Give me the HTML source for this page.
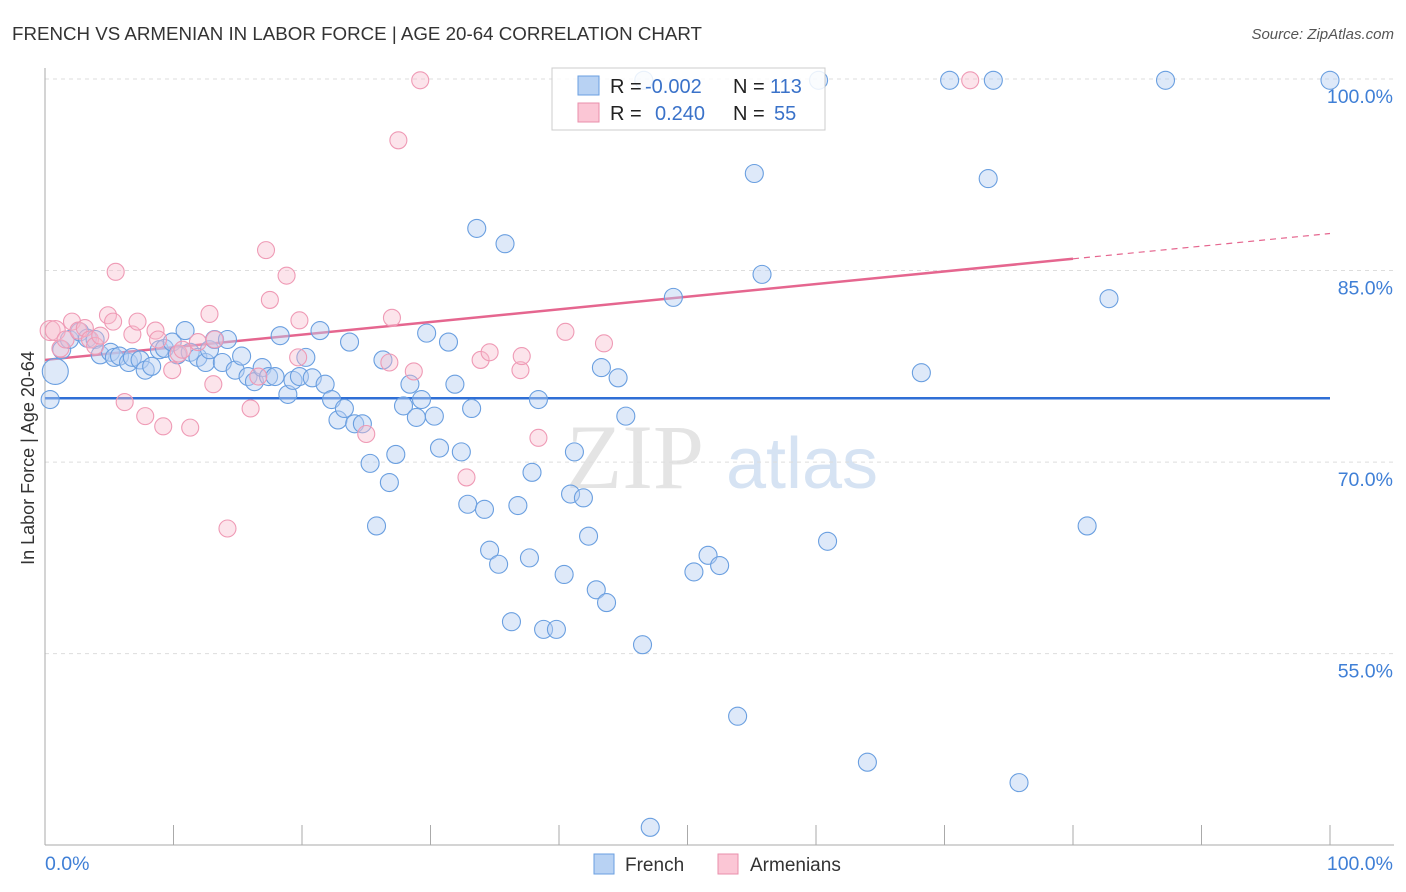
<!DOCTYPE html>
<html><head><meta charset="utf-8"><style>
body{margin:0;background:#fff;font-family:"Liberation Sans",sans-serif}
svg{display:block}
</style></head><body>
<svg id="chart" width="1406" height="892" xmlns="http://www.w3.org/2000/svg">
<text x="12" y="40" font-size="18" fill="#333" textLength="690" lengthAdjust="spacingAndGlyphs">FRENCH VS ARMENIAN IN LABOR FORCE | AGE 20-64 CORRELATION CHART</text>
<text x="1394" y="39" font-size="15" fill="#555" font-style="italic" text-anchor="end">Source: ZipAtlas.com</text>
<g><text x="635" y="488" font-size="92" font-family="Liberation Serif,serif" fill="#e4e4e4" text-anchor="middle">ZIP</text><text x="802" y="488" font-size="72" fill="#d6e3f3" text-anchor="middle">atlas</text></g>
<g id="grid"></g><g id="axes"></g><g id="trends"></g><g id="pts"></g>
<text transform="translate(34,458) rotate(-90)" font-size="18" fill="#333" text-anchor="middle">In Labor Force | Age 20-64</text>
<g>
<rect x="552" y="68" width="273" height="62" fill="#fff" fill-opacity="0.85" stroke="#ccc"/>
<rect x="578" y="76" width="21" height="19" fill="#b8d2f3" stroke="#6a9fe0"/>
<rect x="578" y="103" width="21" height="19" fill="#fbc6d5" stroke="#ea8fab"/>
<text x="610" y="93" font-size="20" fill="#222">R = <tspan fill="#3a72c9" x="645">-0.002</tspan></text>
<text x="733" y="93" font-size="20" fill="#222">N = <tspan fill="#3a72c9" x="770">113</tspan></text>
<text x="610" y="120" font-size="20" fill="#222">R = <tspan fill="#3a72c9" x="655">0.240</tspan></text>
<text x="733" y="120" font-size="20" fill="#222">N = <tspan fill="#3a72c9" x="774">55</tspan></text>
</g>
<g>
<rect x="594" y="854" width="20" height="20" fill="#b8d2f3" stroke="#6a9fe0"/>
<text x="625" y="871" font-size="19" fill="#333">French</text>
<rect x="718" y="854" width="20" height="20" fill="#fbc6d5" stroke="#ea8fab"/>
<text x="750" y="871" font-size="19" fill="#333">Armenians</text>
</g>
</svg>
<script>
const yTicks=[100,85,70,55];
const xTickLabels=["0.0%","100.0%"];
const frenchX=[0.4,0.8,1.3,1.9,2.7,3.3,3.9,4.3,5.1,5.4,5.8,6.5,6.8,7.4,7.8,8.3,8.9,9.3,9.9,10.3,10.9,11.3,11.9,12.5,12.8,13.2,13.8,14.2,14.8,15.3,15.8,16.3,16.9,17.4,17.9,18.3,18.9,19.3,19.8,20.3,20.8,21.4,21.8,22.3,22.8,23.3,23.7,24.1,24.7,25.3,25.8,26.3,26.8,27.3,27.9,28.4,28.9,29.3,29.7,30.3,30.7,31.4,31.9,32.4,32.9,33.2,33.6,34.2,34.6,35.3,35.8,36.3,36.8,37.7,37.9,38.4,38.8,39.8,40.4,40.9,41.2,41.9,42.3,42.9,43.7,43.3,44.6,45.2,46.5,47.1,46.6,48.9,50.5,51.6,52.5,53.9,55.2,55.8,60.2,60.9,64.0,68.2,70.4,73.4,73.8,75.8,81.1,82.8,87.2,100];
const frenchY=[74.9,77.1,78.8,79.6,80.2,79.7,79.6,78.4,78.6,78.2,78.3,77.8,78.2,78.0,77.2,77.5,78.8,78.9,79.4,78.4,80.3,78.6,78.2,77.8,78.8,79.6,77.8,79.6,77.2,78.3,76.7,76.3,77.4,76.7,76.7,79.9,75.3,76.4,76.7,78.2,76.6,80.3,76.1,74.9,73.3,74.2,79.4,73.0,73.0,69.9,65.0,78.0,68.4,70.6,74.4,76.1,73.5,74.9,80.1,73.6,71.1,79.4,76.1,70.8,66.7,74.2,88.3,66.3,63.1,62.0,87.1,57.5,66.6,62.5,69.2,74.9,56.9,56.9,61.2,67.5,70.8,67.2,64.2,60.0,59.0,77.4,76.6,73.6,55.7,41.4,99.9,82.9,61.4,62.7,61.9,50.1,92.6,84.7,99.9,63.8,46.5,77.0,99.9,92.2,99.9,44.9,65.0,82.8,99.9,99.9];
const armX=[0.4,0.8,1.2,1.6,2.1,2.6,3.1,3.5,3.9,4.3,4.9,5.3,5.5,6.2,6.8,7.2,7.8,8.6,8.8,9.2,9.9,10.4,10.7,11.3,11.9,12.8,13.1,13.2,14.2,16.0,16.6,17.2,17.5,18.8,19.7,19.8,25.0,27.0,26.8,27.5,28.7,29.2,32.8,33.9,34.6,37.0,37.1,38.4,40.5,43.5,72.0];
const armY=[80.3,80.3,78.9,79.6,81.0,80.3,80.5,79.6,79.1,79.9,81.5,81.0,84.9,74.7,80.0,81.0,73.6,80.3,79.6,72.8,77.2,78.5,78.8,72.7,79.4,81.6,76.1,79.6,64.8,74.2,76.7,86.6,82.7,84.6,78.2,81.1,72.2,81.3,77.8,95.2,77.1,99.9,68.8,78.0,78.6,77.2,78.3,71.9,80.2,79.3,99.9];
const frenchTrend=[75.0,75.0];
const armTrend=[78.0,87.9];
const X=v=>45+v*12.85, Y=v=>79+(100-v)*12.77;
const NS="http://www.w3.org/2000/svg";
function mk(tag,parent,attrs){const e=document.createElementNS(NS,tag);for(const k in attrs)e.setAttribute(k,attrs[k]);document.getElementById(parent).appendChild(e);return e;}
yTicks.forEach(t=>{
 const l=mk('line','grid',{x1:45,x2:1394,y1:Y(t),y2:Y(t),stroke:'#ddd','stroke-dasharray':'4,4'});
 
 
 const tx=mk('text','grid',{x:1393,y:Y(t)+24,'font-size':19.5,fill:'#3f7fd6','text-anchor':'end'});
 tx.textContent=t.toFixed(1)+'%';
 
 
});
const ax=mk('line','axes',{x1:45,x2:45,y1:68,y2:845,stroke:'#aaa'});


const bx=mk('line','axes',{x1:45,x2:1394,y1:845,y2:845,stroke:'#aaa'});


for(let i=0;i<=10;i++){const t=mk('line','axes',{x1:X(i*10),x2:X(i*10),y1:825,y2:845,stroke:'#aaa'});
 
 }
const xl0=mk('text','axes',{x:45,y:870,'font-size':19.5,fill:'#3f7fd6'});xl0.textContent=xTickLabels[0];


const xl1=mk('text','axes',{x:1393,y:870,'font-size':19.5,fill:'#3f7fd6','text-anchor':'end'});xl1.textContent=xTickLabels[1];


frenchY.forEach((v,i)=>{const c=mk('circle','pts',{cx:X(frenchX[i]),cy:Y(v),r:i==1?13:9,fill:'#b5cff2','fill-opacity':0.45,stroke:'#6a9fe0','stroke-width':1.1});
 
 });
armY.forEach((v,i)=>{const c=mk('circle','pts',{cx:X(armX[i]),cy:Y(v),r:i<2?10:8.5,fill:'#f8bccd','fill-opacity':0.4,stroke:'#ef9ab5','stroke-width':1.1});
 
 });
const ft=mk('line','trends',{x1:X(0),x2:X(100),y1:Y(frenchTrend[0]),y2:Y(frenchTrend[1]),stroke:'#2f6fd6','stroke-width':2.5});


const at=v=>armTrend[0]+(armTrend[1]-armTrend[0])*v/100;
const a1=mk('line','trends',{x1:X(0),x2:X(80),y1:Y(at(0)),y2:Y(at(80)),stroke:'#e5668f','stroke-width':2.5});


const a2=mk('line','trends',{x1:X(80),x2:X(100),y1:Y(at(80)),y2:Y(at(100)),stroke:'#e5668f','stroke-width':1.2,'stroke-dasharray':'6,5'});


</script>
</body></html>
